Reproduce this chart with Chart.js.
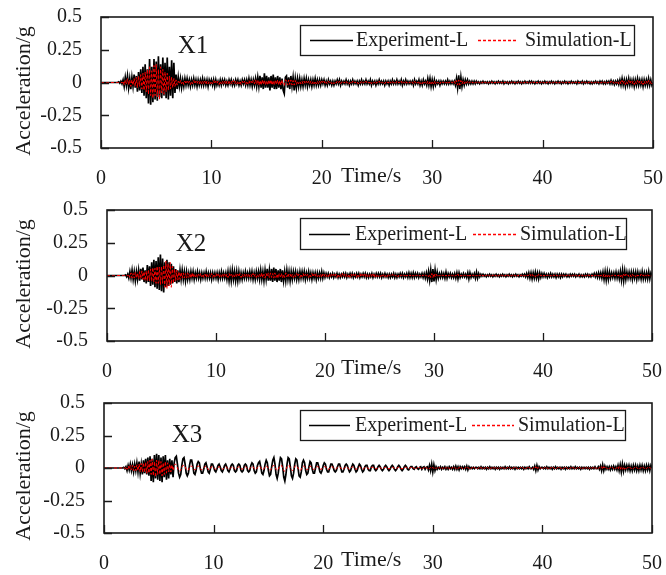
<!DOCTYPE html>
<html><head><meta charset="utf-8">
<script src="https://cdn.jsdelivr.net/npm/chart.js@4"></script>
<style>
html,body{margin:0;padding:0;background:#fff;}
#wrap{position:relative;width:666px;height:575px;overflow:hidden;background:#fff;}
.p{position:absolute;left:0;width:666px;}
canvas{display:block;}
</style></head><body>
<div id="wrap">
<div class="p" style="top:0;height:190px"><canvas id="c1" width="666" height="190"></canvas></div>
<div class="p" style="top:190px;height:190px"><canvas id="c2" width="666" height="190"></canvas></div>
<div class="p" style="top:385px;height:190px"><canvas id="c3" width="666" height="190"></canvas></div>
</div>
<script>
// ---- data ----
const DT = 0.1; // sample interval (s)
const xTicks = [0, 10, 20, 30, 40, 50];
const yTicks = [-0.5, -0.25, 0, 0.25, 0.5];
const yTickLabels = ['-0.5', '-0.25', '0', '0.25', '0.5'];
const panelNames = ['X1', 'X2', 'X3'];
const seriesNames = ['Experiment-L', 'Simulation-L'];
const yTitle = 'Acceleration/g';
const xTitle = 'Time/s';

const expX1 = [
0,0,0,0,0,0,0,0,0,0,
0,0,0,0,0,0,.005,-.005,.01,-.01,
.02,-.03,.04,-.02,.05,-.04,.03,-.05,.04,-.03,
.06,-.04,.05,-.07,.08,-.06,.1,-.08,.12,-.1,
.14,-.12,.1,-.16,.18,-.17,.12,-.15,.18,-.13,
.16,-.14,.2,-.11,.14,-.12,.19,-.1,.15,-.12,
.19,-.13,.12,-.1,.17,-.12,.15,-.08,.06,-.05,
.04,-.03,.03,-.04,.02,-.03,.03,-.02,.03,-.02,
.02,-.03,.02,-.02,.03,-.02,.02,-.03,.02,-.02,
.02,-.02,.03,-.02,.02,-.02,.02,-.03,.02,-.01,
.02,-.02,.02,-.03,.02,-.02,.01,-.02,.02,-.02,
.02,-.01,.02,-.02,.01,-.02,.02,-.01,.02,-.02,
.01,-.02,.02,-.01,.02,-.02,.01,-.02,.02,-.01,
.02,-.02,.02,-.02,.03,-.02,.02,-.03,.02,-.02,
.03,-.03,.04,-.03,.05,-.04,.04,-.05,.07,-.04,
.05,-.04,.04,-.06,.05,-.04,.06,-.05,.04,-.05,
.05,-.04,.04,-.05,.03,-.06,-.085,.04,.05,-.04,
.04,-.05,.05,-.03,.04,-.06,.03,-.04,.03,-.03,
.03,-.03,.02,-.03,.03,-.02,.03,-.03,.02,-.02,
.02,-.03,.02,-.02,.03,-.02,.02,-.02,.02,-.02,
.02,-.01,.02,-.02,.01,-.02,.02,-.01,.01,-.02,
.01,-.02,.01,-.01,.02,-.01,.02,-.02,.01,-.01,
.01,-.01,.02,-.01,.01,-.02,.01,-.01,.02,-.01,
.01,-.01,.01,-.02,.01,-.01,.02,-.01,.01,-.01,
.02,-.01,.01,-.01,.02,-.02,.01,-.01,.01,-.02,
.01,-.01,.02,-.01,.01,-.01,.01,-.02,.01,-.01,
.01,-.02,.01,-.01,.02,-.01,.01,-.01,.02,-.01,
.01,-.01,.02,-.02,.01,-.01,.02,-.01,.01,-.01,
.01,-.01,.01,-.02,.02,-.01,.01,-.01,.02,-.02,
.01,-.02,.02,-.01,.01,-.02,.03,-.02,.03,-.03,
.02,-.03,.02,-.02,.01,-.01,.01,-.02,.01,-.01,
.01,-.01,.01,-.01,.02,-.01,.01,-.01,.01,-.01,
.01,-.02,.03,-.04,.055,-.05,.04,-.03,.02,-.02,
.02,-.01,.02,-.01,.01,-.01,.01,-.01,.01,-.01,
.01,-.005,.005,-.01,.005,-.005,.01,-.005,.005,-.005,
.005,-.01,.005,-.005,.01,-.005,.005,-.01,.005,-.005,
.01,-.005,.005,-.005,.01,-.01,.005,-.005,.005,-.01,
.005,-.005,.01,-.005,.005,-.01,.005,-.005,.01,-.005,
.005,-.01,.005,-.005,.01,-.005,.005,-.005,.01,-.005,
.01,-.005,.005,-.01,.005,-.005,.01,-.005,.005,-.01,
.005,-.005,.01,-.005,.005,-.01,.005,-.005,.01,-.005,
.005,-.01,.005,-.005,.01,-.005,.005,-.01,.005,-.005,
.01,-.005,.005,-.01,.005,-.005,.01,-.005,.005,-.005,
.005,-.01,.01,-.005,.005,-.005,.01,-.01,.005,-.005,
.01,-.005,.005,-.01,.005,-.01,.005,-.005,.01,-.005,
.005,-.01,.01,-.005,.01,-.01,.005,-.01,.01,-.005,
.01,-.01,.015,-.01,.01,-.015,.01,-.01,.015,-.015,
.02,-.02,.03,-.02,.02,-.03,.02,-.02,.03,-.02,
.02,-.02,.02,-.03,.02,-.02,.03,-.02,.02,-.02,
.02,-.03,.02,-.02,.02,-.02,.03,-.02,.02,-.02,
0];

const simX1 = [
0,0,0,0,0,0,0,0,0,0,
0,0,0,0,0,0,0,0,.005,-.005,
.01,-.02,.02,-.01,.03,-.02,.02,-.03,.02,-.02,
.03,-.03,.04,-.04,.05,-.03,.06,-.05,.07,-.06,
.08,-.07,.1,-.09,.12,-.1,.09,-.12,.13,-.1,
.14,-.11,.1,-.13,.12,-.08,.1,-.09,.08,-.07,
.07,-.06,.05,-.05,.04,-.04,.03,-.03,.02,-.02,
.01,-.01,.015,-.01,.01,-.015,.01,-.01,.01,-.01,
.01,-.015,.01,-.01,.015,-.01,.01,-.01,.01,-.01,
.015,-.01,.01,-.01,.01,-.015,.01,-.01,.01,-.01,
.01,-.01,.015,-.01,.01,-.01,.01,-.015,.01,-.01,
.01,-.01,.01,-.015,.01,-.01,.015,-.01,.01,-.01,
.015,-.01,.01,-.01,.01,-.01,.01,-.015,.01,-.01,
.01,-.015,.01,-.01,.015,-.01,.01,-.01,.015,-.01,
.02,-.015,.02,-.02,.015,-.02,.02,-.015,.02,-.02,
.015,-.02,.02,-.015,.02,-.02,.015,-.02,.02,-.015,
.02,-.02,.015,-.02,.02,-.015,-.025,.02,.015,-.02,
.02,-.015,.02,-.02,.015,-.02,.015,-.015,.01,-.01,
.01,-.01,.01,-.01,.01,-.01,.01,-.01,.01,-.01,
.01,-.01,.01,-.01,.01,-.01,.01,-.01,.01,-.01,
.01,-.005,.01,-.01,.005,-.01,.01,-.005,.005,-.01,
.005,-.01,.005,-.005,.01,-.005,.01,-.01,.005,-.005,
.005,-.005,.01,-.005,.005,-.01,.005,-.005,.01,-.005,
.005,-.005,.005,-.01,.005,-.005,.01,-.005,.005,-.005,
.01,-.005,.005,-.005,.01,-.01,.005,-.005,.005,-.01,
.005,-.005,.01,-.005,.005,-.005,.005,-.01,.005,-.005,
.005,-.01,.005,-.005,.01,-.005,.005,-.005,.01,-.005,
.005,-.005,.01,-.01,.005,-.005,.01,-.005,.005,-.005,
.005,-.005,.005,-.01,.01,-.005,.005,-.005,.01,-.01,
.005,-.01,.01,-.005,.005,-.01,.01,-.01,.01,-.01,
.01,-.01,.01,-.01,.005,-.005,.005,-.01,.005,-.005,
.005,-.005,.005,-.005,.01,-.005,.005,-.005,.005,-.005,
.01,-.01,.015,-.02,.02,-.02,.015,-.01,.01,-.01,
.01,-.005,.01,-.005,.005,-.005,.005,-.005,.005,-.005,
.005,-.005,.005,-.005,.005,-.005,.005,-.005,.005,-.005,
.005,-.005,.005,-.005,.005,-.005,.005,-.005,.005,-.005,
.005,-.005,.005,-.005,.005,-.005,.005,-.005,.005,-.005,
.005,-.005,.005,-.005,.005,-.005,.005,-.005,.005,-.005,
.005,-.005,.005,-.005,.005,-.005,.005,-.005,.005,-.005,
.005,-.005,.005,-.005,.005,-.005,.005,-.005,.005,-.005,
.005,-.005,.005,-.005,.005,-.005,.005,-.005,.005,-.005,
.005,-.005,.005,-.005,.005,-.005,.005,-.005,.005,-.005,
.005,-.005,.005,-.005,.005,-.005,.005,-.005,.005,-.005,
.005,-.005,.005,-.005,.005,-.005,.005,-.005,.005,-.005,
.005,-.005,.005,-.005,.005,-.005,.005,-.005,.005,-.005,
.005,-.005,.005,-.005,.005,-.005,.005,-.005,.005,-.005,
.005,-.005,.01,-.005,.005,-.01,.005,-.005,.01,-.01,
.01,-.01,.015,-.01,.01,-.015,.01,-.01,.015,-.01,
.01,-.01,.01,-.015,.01,-.01,.015,-.01,.01,-.01,
.01,-.015,.01,-.01,.01,-.01,.015,-.01,.01,-.01,
0];

const expX2 = [
0,0,0,0,0,0,0,0,0,0,
0,0,0,0,0,0,0,.005,-.01,.01,
-.02,.03,-.02,.04,-.03,.03,-.04,.03,-.03,.04,
-.04,.05,-.03,.06,-.05,.04,-.06,.08,-.05,.07,
-.08,.1,-.07,.12,-.09,.11,-.1,.14,-.11,.16,
-.12,.13,-.13,.1,-.09,.12,-.08,.1,-.07,.09,
-.06,.07,-.05,.05,-.06,.04,-.05,.04,-.03,.04,
-.03,.03,-.04,.03,-.03,.02,-.03,.03,-.02,.03,
-.03,.02,-.02,.03,-.02,.02,-.03,.02,-.02,.02,
-.02,.03,-.02,.02,-.02,.02,-.03,.02,-.02,.02,
-.02,.02,-.03,.02,-.02,.03,-.02,.02,-.02,.02,
-.03,.03,-.04,.03,-.04,.04,-.03,.03,-.04,.03,
-.04,.03,-.03,.02,-.03,.02,-.02,.03,-.02,.02,
-.02,.03,-.02,.03,-.03,.02,-.03,.03,-.02,.03,
-.03,.04,-.03,.03,-.04,.04,-.03,.05,-.04,.04,
-.04,.05,-.05,.06,-.04,.05,-.05,.04,-.04,.05,
-.05,.04,-.04,.03,-.04,.04,-.03,.03,-.04,.03,
-.03,.03,-.02,.03,-.03,.02,-.03,.03,-.02,.03,
-.02,.03,-.03,.02,-.02,.03,-.02,.02,-.03,.02,
-.02,.02,-.03,.02,-.02,.02,-.02,.03,-.02,.02,
-.015,.015,-.01,.015,-.015,.01,-.01,.015,-.015,.01,
-.01,.015,-.015,.01,-.015,.01,-.01,.015,-.01,.015,
-.015,.01,-.01,.015,-.01,.015,-.015,.01,-.01,.015,
-.01,.015,-.015,.01,-.01,.015,-.01,.015,-.015,.01,
-.015,.01,-.01,.015,-.015,.01,-.01,.015,-.01,.015,
-.01,.015,-.015,.01,-.01,.015,-.01,.01,-.015,.01,
-.015,.01,-.01,.015,-.015,.01,-.015,.01,-.01,.015,
-.01,.015,-.015,.01,-.01,.015,-.015,.02,-.015,.015,
-.015,.02,-.015,.015,-.01,.015,-.015,.01,-.01,.015,
-.015,.015,-.02,.02,-.025,.03,-.035,.04,-.05,.05,
-.045,.04,-.03,.025,-.02,.015,-.015,.02,-.015,.015,
-.02,.025,-.02,.015,-.01,.015,-.015,.01,-.015,.015,
-.02,.02,-.025,.02,-.015,.01,-.01,.015,-.01,.01,
-.015,.02,-.025,.02,-.015,.01,-.01,.015,-.02,.025,
-.02,.015,-.01,.01,-.005,.01,-.005,.005,-.01,.005,
-.005,.01,-.005,.005,-.01,.005,-.005,.01,-.005,.005,
-.01,.005,-.005,.01,-.005,.005,-.01,.005,-.005,.01,
-.005,.005,-.01,.005,-.005,.01,-.005,.005,-.01,.005,
-.005,.01,-.005,.01,-.01,.015,-.015,.02,-.02,.02,
-.025,.02,-.02,.025,-.02,.02,-.025,.02,-.015,.015,
-.01,.015,-.01,.01,-.015,.01,-.01,.015,-.01,.01,
-.01,.01,-.015,.01,-.01,.01,-.015,.01,-.01,.01,
-.005,.01,-.01,.005,-.01,.01,-.005,.01,-.005,.01,
-.01,.005,-.005,.01,-.01,.005,-.01,.005,-.01,.01,
-.005,.01,-.01,.005,-.01,.01,-.005,.015,-.01,.015,
-.015,.02,-.015,.02,-.02,.025,-.03,.03,-.035,.03,
-.03,.025,-.02,.02,-.015,.02,-.02,.025,-.02,.02,
-.025,.03,-.035,.04,-.04,.035,-.03,.025,-.02,.025,
-.02,.025,-.03,.025,-.02,.025,-.03,.025,-.02,.02,
-.025,.03,-.025,.02,-.025,.02,-.025,.03,-.025,.02,
0];

const simX2 = [
0,0,0,0,0,0,0,0,0,0,
0,0,0,0,0,0,0,0,.005,-.005,
.01,-.015,.02,-.02,.015,-.02,.025,-.02,.02,-.025,
.03,-.025,.035,-.03,.03,-.04,.035,-.04,.045,-.04,
.05,-.045,.06,-.05,.055,-.06,.07,-.06,.065,-.07,
.07,-.06,.08,-.09,.11,-.1,.09,-.08,.1,-.09,
.07,-.06,.05,-.04,.04,-.035,.03,-.03,.025,-.02,
.02,-.02,.015,-.02,.02,-.015,.015,-.02,.02,-.015,
.015,-.01,.01,-.015,.01,-.01,.015,-.01,.01,-.015,
.01,-.015,.015,-.01,.01,-.01,.015,-.015,.01,-.01,
.015,-.01,.01,-.015,.01,-.01,.015,-.01,.01,-.015,
.01,-.015,.015,-.01,.01,-.015,.01,-.01,.015,-.01,
.01,-.01,.015,-.015,.01,-.01,.01,-.015,.01,-.01,
.015,-.01,.01,-.01,.015,-.01,.01,-.015,.01,-.01,
.01,-.015,.02,-.015,.01,-.02,.015,-.01,.02,-.015,
.02,-.015,.015,-.02,.02,-.015,.01,-.02,.015,-.01,
.015,-.02,.01,-.015,.02,-.01,.015,-.01,.01,-.015,
.01,-.015,.01,-.01,.015,-.01,.01,-.015,.01,-.01,
.015,-.01,.01,-.01,.01,-.015,.01,-.01,.015,-.01,
.01,-.01,.015,-.01,.01,-.01,.01,-.015,.01,-.01,
.01,-.01,.01,-.01,.015,-.01,.01,-.01,.01,-.01,
.01,-.015,.01,-.01,.01,-.01,.015,-.01,.01,-.01,
.01,-.01,.01,-.015,.01,-.01,.01,-.01,.01,-.015,
.01,-.01,.015,-.01,.01,-.01,.01,-.01,.015,-.01,
.01,-.01,.01,-.01,.01,-.015,.01,-.01,.01,-.01,
.005,-.01,.01,-.005,.01,-.01,.005,-.01,.01,-.005,
.005,-.005,.01,-.005,.005,-.005,.005,-.01,.005,-.005,
.005,-.005,.005,-.005,.01,-.005,.005,-.005,.005,-.005,
.005,-.005,.005,-.005,.005,-.005,.005,-.005,.005,-.005,
.005,-.005,.005,-.005,.005,-.01,.01,-.015,.015,-.015,
.015,-.01,.01,-.005,.005,-.005,.005,-.005,.005,-.005,
.005,-.005,.005,-.005,.005,-.005,.005,-.005,.005,-.005,
.005,-.005,.01,-.005,.005,-.005,.005,-.005,.005,-.005,
.005,-.005,.01,-.005,.005,-.005,.005,-.005,.005,-.005,
.005,-.005,.005,-.005,.005,-.005,.005,-.005,.005,-.005,
.005,-.005,.005,-.005,.005,-.005,.005,-.005,.005,-.005,
.005,-.005,.005,-.005,.005,-.005,.005,-.005,.005,-.005,
.005,-.005,.005,-.005,.005,-.005,.005,-.005,.005,-.005,
.005,-.005,.005,-.005,.005,-.005,.005,-.005,.01,-.005,
.01,-.005,.005,-.01,.005,-.005,.01,-.005,.005,-.005,
.005,-.005,.005,-.005,.005,-.005,.005,-.005,.005,-.005,
.005,-.005,.005,-.005,.005,-.005,.005,-.005,.005,-.005,
.005,-.005,.005,-.005,.005,-.005,.005,-.005,.005,-.005,
.005,-.005,.005,-.005,.005,-.005,.005,-.005,.005,-.005,
.005,-.005,.005,-.005,.005,-.005,.005,-.005,.005,-.005,
.005,-.005,.01,-.005,.005,-.01,.01,-.01,.01,-.01,
.01,-.01,.005,-.005,.005,-.005,.005,-.005,.005,-.005,
.01,-.01,.01,-.015,.01,-.01,.01,-.005,.005,-.01,
.005,-.01,.01,-.005,.005,-.01,.01,-.005,.005,-.005,
.01,-.005,.005,-.01,.005,-.005,.01,-.005,.005,-.005,
0];

const expX3 = [
0,0,0,0,0,0,0,0,0,0,
0,0,0,0,0,0,0,0,.005,-.005,
.01,-.02,.02,-.015,.03,-.02,.025,-.03,.03,-.02,
.04,-.03,.05,-.04,.03,-.05,.06,-.04,.07,-.05,
.08,-.06,.09,-.1,.07,-.11,.1,-.08,.11,-.09,
.1,-.1,.08,-.11,.09,-.07,.1,-.09,.06,-.08,
.07,-.05,.06,-.07,.04,.08,.09,.03,-.04,-.07,
-.05,.02,.07,.08,.03,-.04,-.06,-.04,.02,.06,
.06,.02,-.04,-.05,-.02,.03,.05,.04,-.01,-.04,
-.04,-.01,.03,.04,.01,-.03,-.04,-.01,.03,.03,
.01,-.02,-.03,-.01,.02,.03,.01,-.02,-.03,-.01,
.02,.03,.01,-.02,-.03,-.01,.02,.03,.02,-.02,
-.03,-.02,.02,.03,.02,-.02,-.03,-.02,.02,.03,
.02,-.02,-.03,-.02,.02,.04,.03,-.02,-.04,-.03,
.02,.04,.05,.01,-.04,-.05,-.02,.03,.06,.04,
-.02,-.06,-.05,.01,.06,.08,.03,-.05,-.08,-.04,
.03,.08,.07,.01,-.07,-.1,-.05,.03,.08,.07,
.01,-.06,-.08,-.04,.03,.07,.06,0,-.06,-.07,
-.03,.04,.06,.04,-.02,-.05,-.04,.01,.05,.04,
-.01,-.04,-.04,0,.04,.04,.01,-.03,-.04,-.02,
.02,.04,.03,-.01,-.03,-.03,0,.03,.03,.01,
-.02,-.03,-.02,.01,.03,.03,0,-.03,-.03,-.01,
.02,.03,.02,-.01,-.03,-.02,.01,.03,.02,-.01,
-.03,-.02,.01,.03,.02,-.01,-.03,-.02,.01,.02,
.02,-.01,-.02,-.02,.01,.02,.02,-.01,-.02,-.01,
.01,.02,.01,-.01,-.02,-.01,.01,.02,.01,-.01,
-.02,-.01,.01,.02,.01,-.01,-.02,-.01,.01,.02,
.01,-.01,-.02,-.01,.01,.02,.01,-.01,-.015,0,
.01,.01,-.005,-.01,.005,.01,-.005,-.01,.005,.01,
-.01,.005,.01,-.01,.005,.01,-.015,.02,-.02,.03,
-.03,.025,-.02,.01,-.01,.005,-.005,.01,-.01,.005,
-.005,.01,-.01,.005,-.01,.01,-.005,.005,-.01,.01,
-.01,.015,-.01,.01,-.015,.01,-.005,.01,-.005,.01,
-.01,.015,-.015,.01,-.005,.005,-.005,.005,-.005,.005,
.005,-.005,.005,-.005,.01,-.005,.005,-.005,.005,-.01,
.005,-.005,.01,-.005,.005,-.005,.005,-.01,.005,-.005,
.005,-.01,.005,-.005,.005,-.005,.01,-.005,.005,-.005,
.01,-.005,.005,-.005,.005,-.01,.005,-.005,.005,-.005,
.005,-.005,.005,-.01,.005,-.005,.005,-.005,.01,-.005,
-.005,.005,-.01,.015,-.02,.02,-.015,.01,-.005,.005,
.005,-.005,.005,-.005,.01,-.005,.005,-.005,.005,-.01,
.005,-.005,.01,-.005,.005,-.005,.005,-.01,.005,-.005,
.005,-.01,.005,-.005,.005,-.005,.01,-.005,.005,-.005,
.01,-.005,.005,-.005,.005,-.01,.005,-.005,.005,-.005,
.005,-.005,.005,-.01,.005,-.005,.005,-.005,.01,-.005,
-.005,.01,-.01,.015,-.02,.025,-.02,.015,-.01,.01,
-.01,.01,-.015,.01,-.01,.015,-.01,.01,-.015,.02,
-.02,.025,-.03,.03,-.025,.02,-.015,.02,-.015,.02,
-.02,.015,-.02,.02,-.015,.02,-.02,.015,-.02,.02,
-.015,.02,-.02,.015,-.02,.02,-.015,.02,-.02,.02,
0];

const simX3 = [
0,0,0,0,0,0,0,0,0,0,
0,0,0,0,0,0,0,0,.005,-.005,
.01,-.01,.015,-.01,.02,-.015,.02,-.02,.015,-.02,
.025,-.02,.03,-.03,.035,-.03,.04,-.035,.045,-.04,
.05,-.04,.06,-.05,.07,-.06,.05,-.07,.06,-.05,
.06,-.05,.05,-.06,.04,-.05,.05,-.04,.04,-.03,
.03,-.03,.025,-.02,.02,.03,.025,0,-.02,-.025,
-.015,.005,.02,.02,.01,-.01,-.02,-.015,.005,.015,
.015,.005,-.01,-.015,-.005,.01,.015,.01,-.005,-.015,
-.01,0,.01,.015,.005,-.01,-.015,-.005,.01,.01,
.005,-.005,-.01,-.005,.005,.01,.005,-.005,-.01,-.005,
.005,.01,.005,-.005,-.01,-.005,.005,.01,.005,-.005,
-.01,-.005,.005,.01,.005,-.005,-.01,-.005,.005,.01,
.005,-.005,-.01,-.005,.005,.01,.01,-.005,-.01,-.01,
.005,.01,.015,.005,-.01,-.015,-.005,.01,.015,.01,
-.005,-.015,-.015,0,.015,.02,.01,-.01,-.02,-.01,
.01,.02,.02,0,-.02,-.025,-.01,.01,.02,.02,
0,-.015,-.02,-.01,.01,.02,.015,0,-.015,-.02,
-.01,.01,.015,.01,-.005,-.015,-.01,.005,.015,.01,
0,-.01,-.01,0,.01,.01,.005,-.01,-.01,-.005,
.005,.01,.01,0,-.01,-.01,0,.01,.01,.005,
-.005,-.01,-.005,.005,.01,.01,0,-.01,-.01,-.005,
.005,.01,.005,-.005,-.01,-.005,.005,.01,.005,-.005,
-.01,-.005,.005,.01,.005,-.005,-.01,-.005,.005,.005,
.005,-.005,-.005,-.005,.005,.005,.005,-.005,-.005,-.005,
.005,.005,.005,-.005,-.005,-.005,.005,.005,.005,-.005,
-.005,-.005,.005,.005,.005,-.005,-.005,-.005,.005,.005,
.005,-.005,-.005,-.005,.005,.005,.005,-.005,-.005,0,
.005,-.005,.005,-.005,.005,-.005,.005,-.005,.005,-.005,
.005,-.005,.005,-.005,.005,-.005,.005,-.005,.005,-.005,
.005,-.005,.005,-.005,.005,-.005,.005,-.005,.005,-.005,
.005,-.005,.005,-.005,.005,-.005,.005,-.005,.005,-.005,
.005,-.005,.005,-.005,.005,-.005,.005,-.005,.005,-.005,
.005,-.005,.005,-.005,.005,-.005,.005,-.005,.005,-.005,
.005,-.005,.005,-.005,.005,-.005,.005,-.005,.005,-.005,
.005,-.005,.005,-.005,.005,-.005,.005,-.005,.005,-.005,
.005,-.005,.005,-.005,.005,-.005,.005,-.005,.005,-.005,
.005,-.005,.005,-.005,.005,-.005,.005,-.005,.005,-.005,
.005,-.005,.005,-.005,.005,-.005,.005,-.005,.005,-.005,
.005,-.005,.005,-.005,.01,-.01,.005,-.005,.005,-.005,
.005,-.005,.005,-.005,.005,-.005,.005,-.005,.005,-.005,
.005,-.005,.005,-.005,.005,-.005,.005,-.005,.005,-.005,
.005,-.005,.005,-.005,.005,-.005,.005,-.005,.005,-.005,
.005,-.005,.005,-.005,.005,-.005,.005,-.005,.005,-.005,
.005,-.005,.005,-.005,.005,-.005,.005,-.005,.005,-.005,
.005,-.005,.005,-.005,.01,-.01,.01,-.005,.005,-.005,
.005,-.005,.005,-.005,.005,-.005,.005,-.005,.005,-.01,
.01,-.01,.01,-.01,.01,-.01,.005,-.005,.005,-.005,
.005,-.005,.005,-.005,.005,-.005,.005,-.005,.005,-.005,
.005,-.005,.005,-.005,.005,-.005,.005,-.005,.005,-.005,
0];

const expSeries = [expX1, expX2, expX3];
const simSeries = [simX1, simX2, simX3];

// ---- layout / style (canvas-local pixels) ----
const FONT = "'Liberation Serif', 'Times New Roman', serif";
const TEXT = '#1a1a1a';
const RED = '#ff0000';
const layouts = [
  {L:101, R:653, T:17, B:148, name:[193,46], box:[300,25,634,55], l1:[310,353], t1:356, l2:[478,518], t2:525, yt:[24,91], tx:341, tcy:176},
  {L:107, R:652, T:20, B:151, name:[191,54], box:[300,28,626,59], l1:[309,350], t1:355, l2:[473,516], t2:520, yt:[24,94], tx:341, tcy:178},
  {L:104, R:652, T:18, B:148, name:[187,50], box:[300,25,625,55], l1:[309,350], t1:355, l2:[472,514], t2:518, yt:[24,91], tx:341, tcy:175}
];

const toPoints = vals => vals.map((v, i) => ({x: Math.round(i * DT * 10) / 10, y: v}));

const decor = {
  id: 'decor',
  afterDraw(chart, args, o) {
    const {ctx, chartArea: a} = chart;
    const x = chart.scales.x, y = chart.scales.y;
    const lay = o.lay;
    ctx.save();
    // frame
    ctx.strokeStyle = '#1a1a1a';
    ctx.lineWidth = 1.6;
    ctx.strokeRect(a.left, a.top, a.right - a.left, a.bottom - a.top);
    // inner tick marks
    ctx.lineWidth = 1.3;
    ctx.beginPath();
    x.ticks.forEach(t => { const px = Math.round(x.getPixelForValue(t.value)) + 0.5; ctx.moveTo(px, a.bottom); ctx.lineTo(px, a.bottom - 8); });
    y.ticks.forEach(t => { const py = Math.round(y.getPixelForValue(t.value)) + 0.5; ctx.moveTo(a.left, py); ctx.lineTo(a.left + 8, py); });
    ctx.stroke();
    // y title
    ctx.fillStyle = TEXT;
    ctx.font = '22px ' + FONT;
    ctx.save();
    ctx.translate(lay.yt[0], lay.yt[1]);
    ctx.rotate(-Math.PI / 2);
    ctx.textAlign = 'center';
    ctx.textBaseline = 'middle';
    ctx.fillText(o.yTitle, 0, 0);
    ctx.restore();
    // x title next to the 20 tick
    ctx.font = '22px ' + FONT;
    ctx.textAlign = 'left';
    ctx.textBaseline = 'middle';
    ctx.fillText(o.xTitle, lay.tx, lay.tcy);
    // panel name
    ctx.font = '25px ' + FONT;
    ctx.textAlign = 'center';
    ctx.fillText(o.name, lay.name[0], lay.name[1]);
    // legend
    const [bx1, by1, bx2, by2] = lay.box;
    ctx.fillStyle = '#fff';
    ctx.fillRect(bx1, by1, bx2 - bx1, by2 - by1);
    ctx.strokeStyle = '#1a1a1a';
    ctx.lineWidth = 1.3;
    ctx.strokeRect(bx1 + 0.5, by1 + 0.5, bx2 - bx1, by2 - by1);
    const my = Math.round((by1 + by2) / 2) + 0.5;
    const ds = chart.data.datasets;
    const items = [[ds[1], lay.l1, lay.t1], [ds[0], lay.l2, lay.t2]];
    ctx.font = '20px ' + FONT;
    ctx.textAlign = 'left';
    items.forEach(([d, l, tx]) => {
      ctx.save();
      ctx.strokeStyle = d.borderColor;
      ctx.lineWidth = d.legendWidth;
      ctx.lineCap = 'butt';
      ctx.setLineDash(d.borderDash || []);
      ctx.lineDashOffset = 0;
      ctx.beginPath(); ctx.moveTo(l[0], my); ctx.lineTo(l[1], my); ctx.stroke();
      ctx.restore();
      ctx.fillStyle = TEXT;
      ctx.fillText(d.label, tx, my);
    });
    ctx.restore();
  }
};

function makeChart(idx) {
  const lay = layouts[idx];
  const H = 190;
  new Chart(document.getElementById('c' + (idx + 1)), {
    type: 'line',
    data: {
      datasets: [
        {label: seriesNames[1], data: toPoints(simSeries[idx]), borderColor: RED, borderWidth: 1, borderDash: [3, 2], pointRadius: 0, tension: 0, legendWidth: 1.4, order: 0},
        {label: seriesNames[0], data: toPoints(expSeries[idx]), borderColor: '#000000', borderWidth: 1.7, pointRadius: 0, tension: 0, legendWidth: 1.3, order: 1}
      ]
    },
    options: {
      responsive: false,
      animation: false,
      layout: {padding: {top: lay.T, right: 666 - lay.R, left: 0, bottom: 0}},
      plugins: {legend: {display: false}, tooltip: {enabled: false},
        decor: {lay, name: panelNames[idx], yTitle, xTitle}},
      scales: {
        x: {
          type: 'linear', min: 0, max: 50,
          afterBuildTicks: s => { s.ticks = xTicks.map(v => ({value: v})); },
          afterFit: s => { s.height = H - lay.B; s.paddingLeft = 0; s.paddingRight = 0; },
          grid: {display: false, drawTicks: false},
          border: {display: false},
          ticks: {autoSkip: false, maxRotation: 0, padding: 19, color: TEXT, font: {family: FONT, size: 20}}
        },
        y: {
          type: 'linear', min: -0.5, max: 0.5,
          afterBuildTicks: s => { s.ticks = yTicks.map(v => ({value: v})); },
          afterFit: s => { s.width = lay.L; s.paddingTop = 0; s.paddingBottom = 0; },
          grid: {display: false, drawTicks: false},
          border: {display: false},
          ticks: {padding: 19, color: TEXT, font: {family: FONT, size: 20},
            callback: v => yTickLabels[yTicks.indexOf(v)]}
        }
      }
    },
    plugins: [decor]
  });
}
[0, 1, 2].forEach(makeChart);
</script>
</body></html>
